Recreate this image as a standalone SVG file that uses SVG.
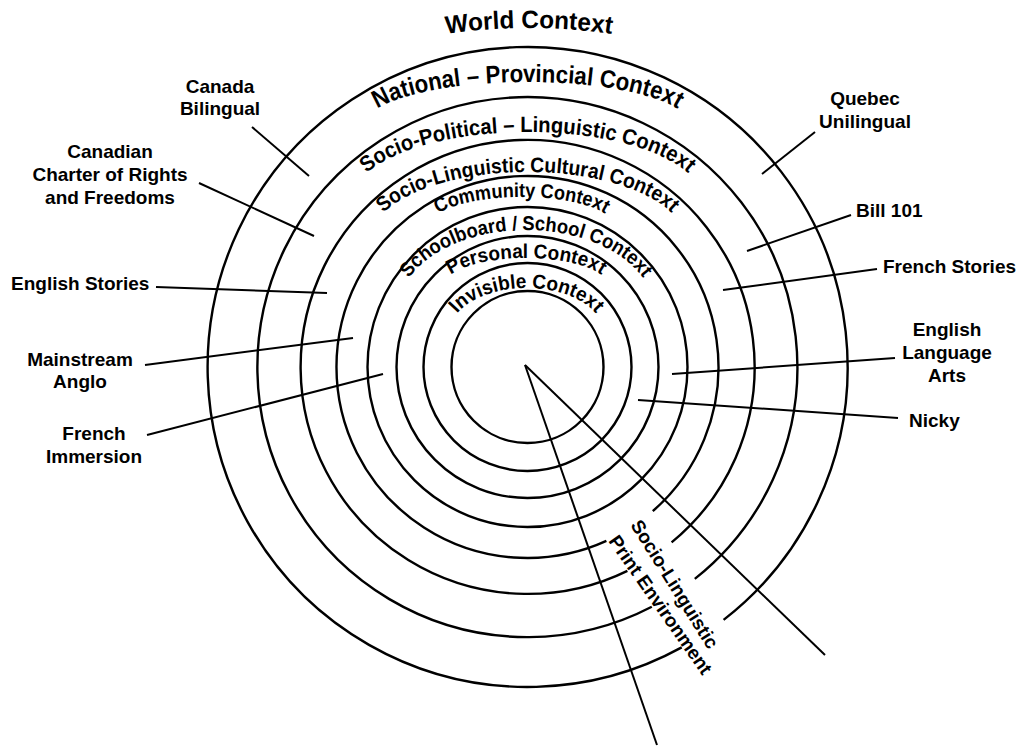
<svg xmlns="http://www.w3.org/2000/svg" width="1019" height="746" viewBox="0 0 1019 746">
<style>
.ring{fill:none;stroke:#000;stroke-width:2.4}
.lead{fill:none;stroke:#000;stroke-width:2}
.lbl{font-family:"Liberation Sans",Arial,sans-serif;font-weight:bold;font-size:19px;fill:#000}
.arc{font-family:"Liberation Sans",Arial,sans-serif;font-weight:bold;fill:#000}
</style>
<defs>
<path id="p1" d="M -48 605 A 577 577 0 0 1 1106 605"/>
<path id="p2" d="M 364.5 126 A 163 44 0 0 1 690.5 126"/>
<path id="p3" d="M 352.5 200 A 175 68 0 0 1 702.5 200"/>
<path id="p4" d="M 370.5 240 A 157 68 0 0 1 684.5 240"/>
<path id="p5" d="M 428 227 A 93.5 30 0 0 1 615 227"/>
<path id="p6" d="M 397.5 312 A 128.5 82 0 0 1 654.5 312"/>
<path id="p7" d="M 443 287 A 83 29 0 0 1 609 287"/>
<path id="p8" d="M 449 334 A 77.5 46 0 0 1 604 334"/>
</defs>
<g id="rings">
<circle class="ring" cx="527.5" cy="367" r="76"/>
<circle class="ring" cx="527.5" cy="367" r="104"/>
<circle class="ring" cx="527.5" cy="367" r="131"/>
<circle class="ring" cx="527.5" cy="367" r="160"/>
<path class="ring" d="M 606.4 540.9 A 191 191 0 1 1 652.8 511.1"/>
<path class="ring" d="M 627.4 570.8 A 227 227 0 1 1 671.6 542.4"/>
<path class="ring" d="M 651.8 606.7 A 270 270 0 1 1 694.8 578.9"/>
<path class="ring" d="M 681.7 647.4 A 320 320 0 1 1 723.6 619.9"/>
</g>
<g id="connectors">
<line class="lead" x1="525" y1="365" x2="657" y2="745"/>
<line class="lead" x1="525" y1="365" x2="825" y2="655"/>
<line class="lead" x1="252" y1="127" x2="309" y2="176"/>
<line class="lead" x1="199" y1="183" x2="314" y2="236"/>
<line class="lead" x1="156" y1="287" x2="327" y2="293"/>
<line class="lead" x1="145" y1="365" x2="353" y2="338"/>
<line class="lead" x1="147" y1="435" x2="383" y2="374"/>
<line class="lead" x1="815" y1="132" x2="762" y2="174"/>
<line class="lead" x1="851" y1="215" x2="747" y2="251"/>
<line class="lead" x1="877" y1="269" x2="723" y2="290"/>
<line class="lead" x1="895" y1="358" x2="672" y2="374"/>
<line class="lead" x1="898" y1="418" x2="638" y2="400"/>
</g>
<g id="world-context"><text class="arc" font-size="25"><textPath href="#p1" startOffset="50%" text-anchor="middle" textLength="166" lengthAdjust="spacingAndGlyphs">World Context</textPath></text></g>
<g id="national-context"><text class="arc" font-size="25"><textPath href="#p2" startOffset="50%" text-anchor="middle" textLength="308" lengthAdjust="spacingAndGlyphs">National – Provincial Context</textPath></text></g>
<g id="sociopolitical-context"><text class="arc" font-size="22"><textPath href="#p3" startOffset="50%" text-anchor="middle" textLength="338" lengthAdjust="spacingAndGlyphs">Socio-Political – Linguistic Context</textPath></text></g>
<g id="sociolinguistic-context"><text class="arc" font-size="21"><textPath href="#p4" startOffset="50%" text-anchor="middle" textLength="306" lengthAdjust="spacingAndGlyphs">Socio-Linguistic Cultural Context</textPath></text></g>
<g id="community-context"><text class="arc" font-size="20"><textPath href="#p5" startOffset="50%" text-anchor="middle" textLength="172" lengthAdjust="spacingAndGlyphs">Community Context</textPath></text></g>
<g id="school-context"><text class="arc" font-size="20"><textPath href="#p6" startOffset="50%" text-anchor="middle" textLength="262" lengthAdjust="spacingAndGlyphs">Schoolboard / School Context</textPath></text></g>
<g id="personal-context"><text class="arc" font-size="20"><textPath href="#p7" startOffset="50%" text-anchor="middle" textLength="156" lengthAdjust="spacingAndGlyphs">Personal Context</textPath></text></g>
<g id="invisible-context"><text class="arc" font-size="20"><textPath href="#p8" startOffset="50%" text-anchor="middle" textLength="152" lengthAdjust="spacingAndGlyphs">Invisible Context</textPath></text></g>
<g id="print-environment">
<text class="lbl" transform="translate(630,525) rotate(58)">Socio-Linguistic</text>
<text class="lbl" transform="translate(608,541) rotate(55)">Print Environment</text>
</g>
<g id="canada-bilingual"><text class="lbl" text-anchor="middle"><tspan x="220" y="93">Canada</tspan><tspan x="220" y="115">Bilingual</tspan></text></g>
<g id="charter"><text class="lbl" text-anchor="middle"><tspan x="110" y="158">Canadian</tspan><tspan x="110" y="181">Charter of Rights</tspan><tspan x="110" y="204">and Freedoms</tspan></text></g>
<g id="english-stories"><text class="lbl" x="11" y="290">English Stories</text></g>
<g id="mainstream-anglo"><text class="lbl" text-anchor="middle"><tspan x="80" y="366">Mainstream</tspan><tspan x="80" y="388">Anglo</tspan></text></g>
<g id="french-immersion"><text class="lbl" text-anchor="middle"><tspan x="94" y="440">French</tspan><tspan x="94" y="463">Immersion</tspan></text></g>
<g id="quebec-unilingual"><text class="lbl" text-anchor="middle"><tspan x="865" y="105">Quebec</tspan><tspan x="865" y="128">Unilingual</tspan></text></g>
<g id="bill-101"><text class="lbl" x="856" y="217">Bill 101</text></g>
<g id="french-stories"><text class="lbl" x="883" y="273">French Stories</text></g>
<g id="english-language-arts"><text class="lbl" text-anchor="middle"><tspan x="947" y="336">English</tspan><tspan x="947" y="359">Language</tspan><tspan x="947" y="382">Arts</tspan></text></g>
<g id="nicky"><text class="lbl" x="909" y="427">Nicky</text></g>
</svg>
